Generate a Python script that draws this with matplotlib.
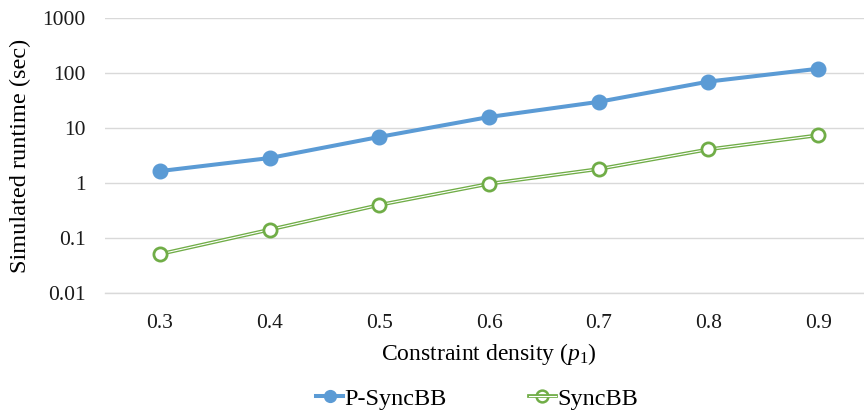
import matplotlib
matplotlib.use("Agg")
import matplotlib.pyplot as plt
from matplotlib.lines import Line2D
from matplotlib.legend_handler import HandlerTuple
import numpy as np

plt.rcParams['font.family'] = ['Liberation Serif', 'DejaVu Serif']
plt.rcParams['mathtext.fontset'] = 'custom'
plt.rcParams['mathtext.rm'] = 'Liberation Serif'
plt.rcParams['mathtext.it'] = 'Liberation Serif:italic'

densities = ["0.3", "0.4", "0.5", "0.6", "0.7", "0.8", "0.9"]
p_syncbb = [1.65, 2.85, 6.9, 15.9, 30.0, 70.0, 120.0]
syncbb = [0.051, 0.142, 0.40, 0.97, 1.8, 4.1, 7.4]
y_ticks = [0.01, 0.1, 1, 10, 100, 1000]
y_tick_labels = ["0.01", "0.1", "1", "10", "100", "1000"]

blue = "#5B9BD5"
green = "#70AD47"
grid_c = "#D9D9D9"

fig = plt.figure(figsize=(8.64, 4.11), dpi=100)
ax = fig.add_axes([0.1215, 0.287, 0.889, 0.669])

x = np.arange(len(densities))

ax.plot(x, p_syncbb, color=blue, lw=2.9, marker='o', ms=10.5,
        mfc=blue, mec=blue, zorder=4, solid_capstyle='round')

# double-stroke line for SyncBB: green outer stroke with a thin white core
ax.plot(x, syncbb, color=green, lw=2.7, zorder=3)
ax.plot(x, syncbb, color='white', lw=0.8, zorder=3.1)
ax.plot(x, syncbb, ls='none', marker='o', ms=9.5, mfc='white',
        mec=green, mew=2.0, zorder=3.2)

ax.set_yscale('log')
ax.set_ylim(0.01, 1000)
ax.set_xlim(-0.5, len(densities) - 0.5)
ax.set_yticks(y_ticks)
ax.set_yticklabels(y_tick_labels)
ax.yaxis.set_minor_locator(matplotlib.ticker.NullLocator())
ax.set_xticks(x)
ax.set_xticklabels(densities)

ax.grid(axis='y', color=grid_c, lw=1.0)
ax.set_axisbelow(True)
for side in ['top', 'right', 'left']:
    ax.spines[side].set_visible(False)
ax.spines['bottom'].set_color(grid_c)
ax.spines['bottom'].set_linewidth(1.0)
ax.tick_params(axis='both', length=0, labelsize=15.5, colors='#1a1a1a')
ax.tick_params(axis='y', pad=14)
ax.tick_params(axis='x', pad=15)

ax.set_ylabel("Simulated runtime (sec)", fontsize=17.5, labelpad=8)
ax.set_xlabel(r"Constraint density ($p_1$)", fontsize=17, labelpad=6)

h_blue = Line2D([], [], color=blue, lw=2.9, marker='o', ms=8.5, mfc=blue, mec=blue)
h_green_mark = Line2D([], [], ls='none', marker='o', ms=8.5, mfc='white',
                      mec=green, mew=1.8)
h_green_outer = Line2D([], [], color=green, lw=2.7)
h_green_inner = Line2D([], [], color='white', lw=0.8)
fig.legend([h_blue, (h_green_mark, h_green_outer, h_green_inner)],
           ["P-SyncBB", "SyncBB"],
           handler_map={tuple: HandlerTuple(ndivide=1, pad=0)},
           loc='center', bbox_to_anchor=(0.552, 0.03), ncol=2, frameon=False,
           fontsize=17.5, handlelength=1.1, handletextpad=0.05,
           columnspacing=3.4)

fig.savefig("out.png", dpi=100)
